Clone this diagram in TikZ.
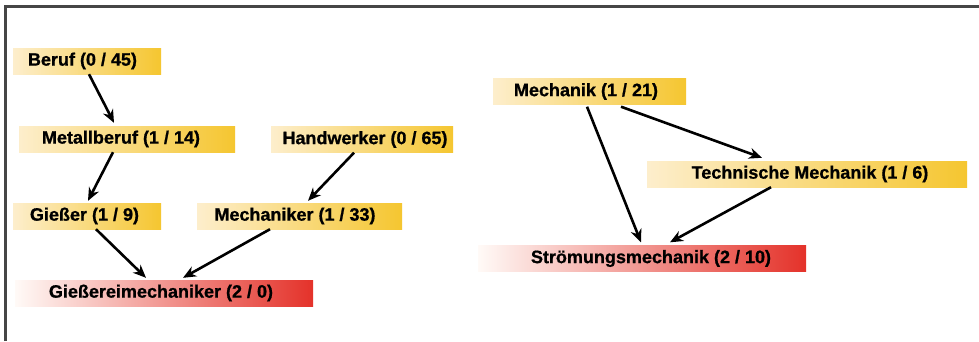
\documentclass[tikz,border=0pt]{standalone}
\usepackage{fontspec}
\setmainfont{Liberation Sans}[BoldFeatures={FakeBold=0.9}]
\usetikzlibrary{arrows.meta,shadings}
\definecolor{goldL}{RGB}{253,238,204}
\definecolor{goldM}{RGB}{249,219,138}
\definecolor{goldR}{RGB}{245,198,48}
\definecolor{redL}{RGB}{255,250,247}
\definecolor{redM}{RGB}{238,145,120}
\definecolor{redR}{RGB}{228,50,42}
\definecolor{frameC}{RGB}{70,70,70}
\tikzset{
  gbox/.style={rectangle, inner sep=0pt, minimum height=26pt, shading=axis,
    left color=goldL, middle color=goldM, right color=goldR, shading angle=90,
    font=\fontsize{18pt}{20pt}\selectfont\bfseries, text=black},
  rbox/.style={gbox, left color=redL, middle color=redM, right color=redR},
  conn/.style={-{Stealth[length=13pt,width=11pt]}, line width=2.6pt, black},
}
\begin{document}
\begin{tikzpicture}[x=1pt,y=-1pt]
\useasboundingbox (0,0) rectangle (979,341);
\fill[white] (0,0) rectangle (979,341);
\draw[frameC, line width=2.4pt] (5.5,341) -- (5.5,6.5) -- (979,6.5);

% left graph
\node[gbox, minimum width=148pt] (beruf) at (87,61) {Beruf (0 / 45)\kern9pt};
\node[gbox, minimum width=216pt] (metall) at (127,139) {Metallberuf (1 / 14)\kern12pt};
\node[gbox, minimum width=182pt] (hand) at (362,139.5) {\kern6pt Handwerker (0 / 65)};
\node[gbox, minimum width=148pt] (giesser) at (87,216) {Gießer (1 / 9)\kern5pt};
\node[gbox, minimum width=205pt] (mechaniker) at (299.5,216) {Mechaniker (1 / 33)\kern9pt};
\node[rbox, minimum width=298pt] (gm) at (164,293) {Gießereimechaniker (2 / 0)\kern6pt};

\draw[conn] ([xshift=2pt]beruf.south) -- ([xshift=-13pt,yshift=3pt]metall.north);
\draw[conn] ([xshift=-14pt]metall.south) -- ([xshift=1pt,yshift=2pt]giesser.north);
\draw[conn] ([xshift=-8pt]hand.south) -- ([xshift=8.5pt,yshift=2pt]mechaniker.north);
\draw[conn] ([xshift=9pt]giesser.south) -- ([xshift=-18pt,yshift=2pt]gm.north);
\draw[conn] ([xshift=-29.5pt]mechaniker.south) -- ([xshift=19pt,yshift=2pt]gm.north);

% right graph
\node[gbox, minimum width=193pt] (mech) at (589.5,91.5) {Mechanik (1 / 21)\kern7pt};
\node[gbox, minimum width=320pt] (tech) at (807,174) {\kern6pt Technische Mechanik (1 / 6)};
\node[rbox, minimum width=328pt] (stroem) at (642,258.5) {\kern18pt Strömungsmechanik (2 / 10)};

\draw[conn] ([xshift=-2.5pt,yshift=-2pt]mech.south) -- ([xshift=-1pt,yshift=3pt]stroem.north);
\draw[conn] ([xshift=31.5pt,yshift=-2pt]mech.south) -- ([xshift=-45pt,yshift=3pt]tech.north);
\draw[conn] ([xshift=-36pt]tech.south) -- ([xshift=28pt,yshift=3pt]stroem.north);
\end{tikzpicture}
\end{document}
